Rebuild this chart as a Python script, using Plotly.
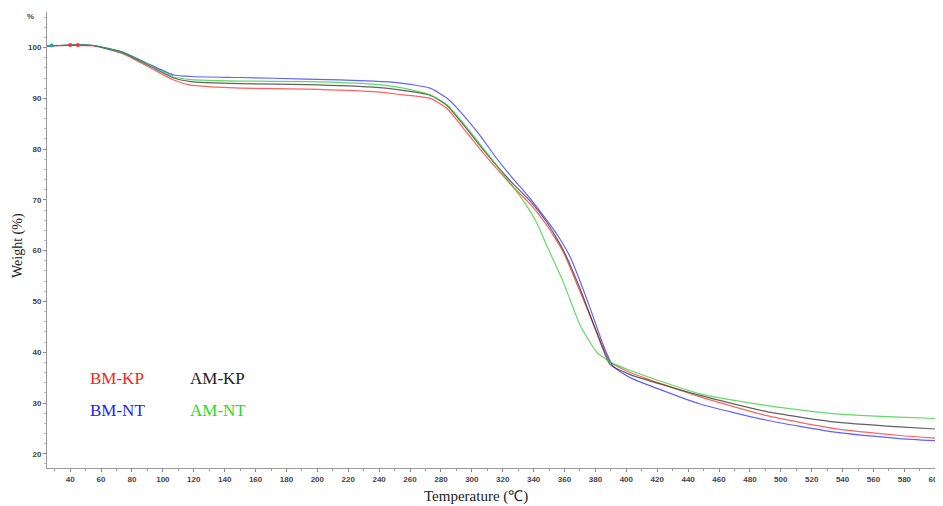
import plotly.graph_objects as go

# ---- data ----
bmkp_T = [25, 40, 55, 74, 92, 107, 118, 135, 150, 193, 236, 252, 273, 284, 294.5, 305, 316, 326.6, 337.7, 348.5, 359.1, 370.1, 380.9, 389.5, 402.5, 447.8, 491, 533.8, 577, 604]
bmkp_W = [100.3, 100.4, 100.3, 98.8, 96.0, 93.6, 92.6, 92.2, 92.0, 91.8, 91.3, 90.8, 90.0, 88.0, 84.1, 80.1, 76.2, 72.6, 69.2, 65.0, 59.8, 51.9, 44.0, 38.1, 36.0, 31.2, 27.5, 25.0, 23.6, 23.0]

amkp_T = [25, 40, 55, 74, 92, 107, 118, 150, 193, 236, 252, 273, 284, 294.5, 305, 316, 326.6, 337.7, 348.5, 359.1, 370.1, 380.9, 389.5, 402.5, 447.8, 491, 533.8, 577, 604]
amkp_W = [100.3, 100.5, 100.4, 99.0, 96.3, 94.0, 93.3, 92.9, 92.7, 92.2, 91.7, 90.6, 88.6, 84.8, 80.8, 76.8, 73.2, 69.8, 65.6, 60.2, 52.5, 43.8, 37.6, 35.6, 31.5, 28.3, 26.3, 25.3, 24.8]

bmnt_T = [25, 40, 55, 74, 92, 107, 118, 150, 193, 236, 252, 273, 284, 294.5, 305, 316, 326.6, 337.7, 348.5, 356, 363.6, 374.4, 385, 391.5, 402.5, 447.8, 491, 533.8, 577, 604]
bmnt_W = [100.3, 100.5, 100.4, 99.1, 96.6, 94.6, 94.3, 94.1, 93.8, 93.4, 93.1, 92.0, 90.0, 86.7, 82.8, 78.2, 74.2, 70.3, 66.0, 62.8, 58.8, 50.5, 41.5, 37.2, 35.0, 29.8, 26.6, 24.3, 23.0, 22.5]

amnt_T = [25, 40, 55, 74, 92, 107, 118, 150, 193, 236, 252, 273, 284, 294.5, 305, 316, 326.6, 333.4, 342, 348.5, 359.1, 370.1, 380.9, 389.5, 402.5, 447.8, 491, 533.8, 577, 604]
amnt_W = [100.3, 100.5, 100.4, 99.0, 96.4, 94.2, 93.7, 93.4, 93.3, 92.8, 92.2, 90.7, 88.7, 85.1, 81.1, 76.8, 72.6, 69.8, 65.5, 61.0, 53.9, 45.3, 40.0, 38.1, 36.4, 31.8, 29.5, 27.9, 27.2, 26.9]

x_ticks = list(range(40, 601, 20))
y_ticks = list(range(20, 101, 10))

series = [
    ("BM-KP", bmkp_T, bmkp_W, "#ff2020"),
    ("AM-KP", amkp_T, amkp_W, "#202020"),
    ("BM-NT", bmnt_T, bmnt_W, "#2020ff"),
    ("AM-NT", amnt_T, amnt_W, "#22cc22"),
]

fig = go.Figure()
for name, T, W, c in series:
    fig.add_trace(go.Scatter(x=T, y=W, mode="lines", name=name,
                             line=dict(color=c, width=1.2, shape="spline", smoothing=0.5),
                             opacity=0.7, showlegend=False))

# small start markers
fig.add_trace(go.Scatter(x=[28, 40, 45], y=[100.4, 100.5, 100.5], mode="markers",
                         marker=dict(color=["#20a0a0", "#ff3030", "#ff3030"], size=4),
                         showlegend=False))

tickfont = dict(family="Liberation Sans", size=8, color="#444", weight="bold")
fig.update_xaxes(range=[25, 605], tickvals=x_ticks, ticks="outside", ticklen=3,
                 tickcolor="#888", showline=True, linecolor="#999", linewidth=1,
                 showgrid=False, zeroline=False, tickfont=tickfont, automargin=False,
                 minor=dict(dtick=10, tick0=0, ticks="outside", ticklen=2, tickcolor="#999"))
fig.update_yaxes(range=[17.2, 107], tickvals=y_ticks, ticks="outside", ticklen=3,
                 tickcolor="#888", showline=True, linecolor="#999", linewidth=1,
                 showgrid=False, zeroline=False, tickfont=tickfont, automargin=False,
                 minor=dict(dtick=2, tick0=0, ticks="outside", ticklen=2, tickcolor="#bbb"))

# page has an 8px body margin: figure pixel = picture pixel - 8
OFF = 8
FW, FH = 935, 498
L, R, T_, B = 47 - OFF, 0, 12 - OFF, FH - (468 - OFF)
pw, ph = FW - L - R, FH - T_ - B

serif = "Liberation Serif"
ann = [
    dict(text="%", x=-0.012, y=0.99, xref="paper", yref="paper", xanchor="right", yanchor="middle",
         showarrow=False, font=dict(family="Liberation Sans", size=8, color="#444", weight="bold")),
    dict(text="Temperature (℃)", x=476, y=496, xref="paper", yref="paper", showarrow=False,
         font=dict(family=serif, size=15, color="#222")),
    dict(text="Weight (%)", x=18, y=245, xref="paper", yref="paper", showarrow=False, textangle=-90,
         font=dict(family=serif, size=14, color="#222")),
    dict(text="BM-KP", x=88, y=378, xref="paper", yref="paper", xanchor="left", showarrow=False,
         font=dict(family=serif, size=17, color="#ff2020")),
    dict(text="AM-KP", x=188, y=378, xref="paper", yref="paper", xanchor="left", showarrow=False,
         font=dict(family=serif, size=17, color="#222222")),
    dict(text="BM-NT", x=88, y=410, xref="paper", yref="paper", xanchor="left", showarrow=False,
         font=dict(family=serif, size=17, color="#2020ff")),
    dict(text="AM-NT", x=188, y=410, xref="paper", yref="paper", xanchor="left", showarrow=False,
         font=dict(family=serif, size=17, color="#22dd22")),
]
for a in ann[1:]:
    a["x"] = (a["x"] - OFF - L) / pw
    a["y"] = (FH - B - (a["y"] - OFF)) / ph
    if a.get("xanchor") != "left":
        a["xanchor"] = "center"
    a["yanchor"] = "middle"

fig.update_layout(width=FW, height=FH, margin=dict(l=L, r=R, t=T_, b=B, autoexpand=False),
                  paper_bgcolor="white", plot_bgcolor="white", annotations=ann)
fig.write_html("out.html")
